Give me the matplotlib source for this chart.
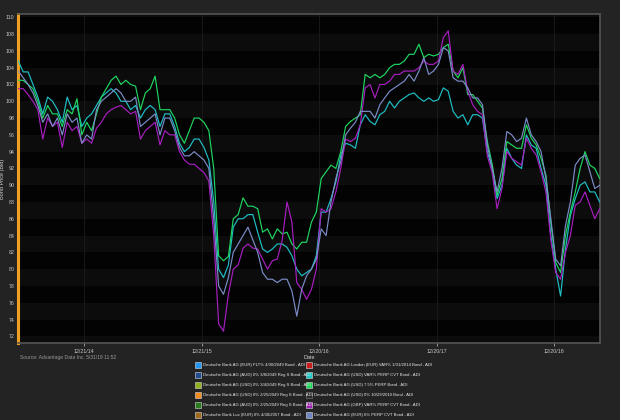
import matplotlib
matplotlib.use("Agg")
import matplotlib.pyplot as plt
from matplotlib.patches import Rectangle
import pandas as pd

plt.rcParams["font.family"] = ["Liberation Sans", "DejaVu Sans"]

dates = pd.date_range("2014-05-30", "2019-05-10", periods=120)

green_75_perp = [
    102.5, 102.5, 102, 101.5, 100, 98, 99.5, 98.5, 98.5, 97,
    99, 98.5, 100.3, 96, 97.5, 96.5, 98.5, 100.5, 101.5, 102.5,
    103, 102, 102.5, 102, 101.8, 99, 101, 101.5, 103, 99,
    99, 99, 98, 96, 95, 96.5, 98, 98, 97.5, 96.5,
    92, 81.6, 81, 81.5, 86, 86.5, 88.5, 87.5, 87.5, 87.2,
    84.4, 84.8, 83.6, 84.8, 84.2, 84.4, 83, 82.4, 83.2, 83.2,
    85.6, 86.8, 90.8, 91.6, 92.4, 92, 94, 97, 97.6, 98,
    98.4, 103.2, 102.8, 103.2, 102.8, 103.2, 104, 104.4, 104.4, 104.8,
    105.6, 105.6, 106.8, 105.2, 105.6, 105.4, 105.6, 106.4, 106.8, 103.6,
    102.8, 104, 100.8, 100.8, 100, 99.2, 95.2, 92.5, 88.8, 90.8,
    95.2, 94.8, 94.4, 94.4, 97.2, 95.6, 94.8, 93.2, 91.2, 85.6,
    80.8, 79.6, 84, 86.8, 89.2, 92, 94, 92.4, 92, 90.8,
]
cyan_usd_var_cvt = [
    104.8, 103.5, 103.5, 102, 100.5, 98.5, 100.5, 100, 99, 97.5,
    100.5, 99, 99.5, 97, 98, 98.5, 99.5, 100.5, 101, 101.5,
    101, 100, 100, 99, 99.5, 98, 99, 99.5, 99, 97,
    98.5, 98.5, 97, 95, 94, 94.5, 95.5, 95.5, 94.5, 93,
    88, 80, 79, 80.5, 85, 86, 86, 86.5, 86.5, 84.4,
    82.4, 82, 82.4, 83, 83, 82.6, 81.6, 80, 79.2, 79.6,
    80, 81.6, 86.8, 86.8, 88.4, 90.4, 93.6, 95, 94.8, 94.4,
    97.2, 98.4, 97.6, 97.2, 98.4, 98.8, 100, 99.2, 100, 100.4,
    100.8, 101, 100.4, 100, 100.4, 100, 100.2, 101.6, 101.2, 98.8,
    98, 98.4, 97.2, 98.4, 98.4, 98, 94, 92, 88.4, 90,
    94.4, 93.2, 92.4, 92, 96, 94.8, 94.4, 92, 90, 84,
    80, 76.8, 82.4, 86.4, 88.4, 90, 90.4, 89.2, 89.2, 88,
]
slate_eur_6_cvt = [
    103.6, 102.8, 102, 101, 99.5, 97.5, 98.5, 97, 98, 96,
    98.5, 97.5, 98, 95, 96, 95.5, 99, 100, 100.5, 101,
    101.5, 101, 100, 100, 100.5, 97, 97.5, 98, 98.5, 96,
    98, 98, 96.5, 94.5, 93.5, 93.5, 94, 93.5, 93, 92,
    86, 78, 77, 79, 82, 83, 84, 85, 83.5, 82,
    79.6, 78.8, 78.8, 78.4, 78.8, 78.8, 77.4, 74.4, 77.6, 79.2,
    80, 81.2, 84.8, 84, 88, 90.8, 92.8, 96, 96.8, 97.5,
    98.8, 98.8, 98.8, 98, 99.6, 100.4, 101.2, 101.6, 102, 102.4,
    103.2, 102.4, 103.6, 105.2, 103.2, 103.6, 104.4, 106.4, 106, 102.8,
    102.4, 102.4, 101.6, 100.4, 100.4, 99.6, 94.8, 92, 89.2, 92,
    96.4, 96, 95.2, 95.6, 98, 96, 95.2, 94, 90.8, 86,
    81.2, 80.4, 85.2, 88, 92.4, 93.2, 93.6, 91.6, 89.6, 90,
]
magenta_gbp_var_cvt = [
    101.5, 101.5, 100.8, 100, 99, 95.5, 98, 97, 97.5, 94.5,
    97.5, 96.5, 97, 95, 95.5, 95, 96.8, 97.5, 98.5, 99,
    99.3, 99.5, 99, 98.5, 98.8, 95.5, 96.5, 97, 97.5, 94.8,
    96.5, 96, 96, 94, 93, 92.5, 92.5, 92, 91.5, 90.5,
    84, 73.5, 72.6, 77, 80, 80.5, 82.5, 83, 82.5, 82.4,
    81.2, 80, 81, 81.2, 83.4, 88, 85.6, 78.4, 77.6, 76.4,
    77.6, 80, 87.2, 86.8, 87.2, 89.2, 92, 95.5, 95.2, 95.6,
    97.2, 101.6, 102, 100.4, 102, 102, 102.4, 103.2, 103.2, 103.6,
    103.6, 103.6, 104, 104.8, 104.4, 104.4, 104.8, 107.6, 108.4, 103.6,
    103.2, 104.4, 101.2, 99.6, 98.8, 98.4, 93.5, 91.5, 87.2, 89.6,
    94, 93.2, 92.8, 92.4, 95.6, 94.4, 93.6, 91.6, 89.2, 83.5,
    79.6, 78.8, 82, 84, 87.6, 88, 89.2, 87.6, 86, 87.2,
]

plotted = [
    ("Deutsche Bank AG (USD) VAR% PERP CVT Bond - ADI", cyan_usd_var_cvt, "#1FBFC6"),
    ("Deutsche Bank AG (USD) 7.5% PERP Bond - ADI", green_75_perp, "#1ED760"),
    ("Deutsche Bank AG (GBP) VAR% PERP CVT Bond - ADI", magenta_gbp_var_cvt, "#A81EC0"),
    ("Deutsche Bank AG (EUR) 6% PERP CVT Bond - ADI", slate_eur_6_cvt, "#7B8CC8"),
]

legend_labels = [
    "Deutsche Bank AG (EUR) FLT% 4/30/2049 Bond - ADI",
    "Deutsche Bank AG (AUD) 0% 3/8/2049 Reg S Bond - ADI",
    "Deutsche Bank AG (USD) 0% 3/4/2049 Reg S Bond - ADI",
    "Deutsche Bank AG (USD) 0% 2/25/2049 Reg S Bond - ADI",
    "Deutsche Bank AG (AUD) 0% 2/25/2049 Reg S Bond - ADI",
    "Deutsche Bank Lux (EUR) 0% 4/30/2057 Bond - ADI",
    "Deutsche Bank AG London (EUR) VAR% 1/31/2014 Bond - ADI",
    "Deutsche Bank AG (USD) VAR% PERP CVT Bond - ADI",
    "Deutsche Bank AG (USD) 7.5% PERP Bond - ADI",
    "Deutsche Bank AG (USD) 0% 10/29/2010 Bond - ADI",
    "Deutsche Bank AG (GBP) VAR% PERP CVT Bond - ADI",
    "Deutsche Bank AG (EUR) 6% PERP CVT Bond - ADI",
]
legend_colors = [
    "#2196F3", "#1F4E8F", "#8FAF1F", "#F08C1E", "#2A7A1E", "#A06A1E",
    "#C81E1E", "#1EC8C8", "#1ED75A", "#2A2A2A", "#A01EB4", "#6F86C0",
]

xtick_dates = ["2014-12-21", "2015-12-21", "2016-12-20", "2017-12-20", "2018-12-20"]
xtick_labels = ["12/21/14", "12/21/15", "12/20/16", "12/20/17", "12/20/18"]
yticks = list(range(72, 111, 2))

BG = "#232323"
fig = plt.figure(figsize=(6.2, 4.2), dpi=100, facecolor=BG)
ax = fig.add_axes([18 / 620, 1 - 343 / 420, 582 / 620, 329 / 420])
ax.set_facecolor("#030303")

ymin, ymax = 71.2, 110.4
for v in range(70, 112, 2):
    if v % 4 == 2:
        ax.axhspan(v, v + 2, color="#0c0c0c", zorder=0, lw=0)

for lab, vals, col in plotted:
    ax.plot(dates, vals, color=col, lw=0.85, zorder=3)

ax.set_ylim(ymin, ymax)
ax.set_xlim(pd.Timestamp("2014-05-29"), pd.Timestamp("2019-05-11"))
ax.set_yticks(yticks)
ax.set_yticklabels([str(t) for t in yticks])
ax.set_xticks([pd.Timestamp(d) for d in xtick_dates])
ax.set_xticklabels(xtick_labels)
ax.grid(axis="x", color="#1c1c1c", lw=0.6, zorder=1)
ax.tick_params(colors="#c8c8c8", labelsize=3.8, length=2, width=0.5, pad=2)
ax.tick_params(axis="y", length=0, pad=2.5)

for s in ["top", "right", "bottom"]:
    ax.spines[s].set_color("#555555")
    ax.spines[s].set_linewidth(1.2)
ax.spines["left"].set_color("#F0A020")
ax.spines["left"].set_linewidth(2.2)

ax.set_ylabel("Bond Price (Bid)", color="#d0d0d0", fontsize=4)
ax.yaxis.set_label_coords(-13 / 582, 0.5)
ax.set_xlabel("Date", color="#d0d0d0", fontsize=4, labelpad=1)

fig.text(20 / 620, 1 - 357 / 420, "Source: Advantage Data Inc. 5/31/19 11:52",
         color="#9a9a9a", fontsize=3.6, va="center", ha="left")

col_x = [198, 309]
row_y = [365, 375, 385, 395, 405, 415]
for k, (lab, col) in enumerate(zip(legend_labels, legend_colors)):
    c, r = divmod(k, 6)
    x0 = col_x[c]
    y0 = row_y[r]
    edge = "#888888" if col == "#2A2A2A" else "#dddddd"
    fig.patches.append(Rectangle(((x0 - 3) / 620, 1 - (y0 + 3) / 420), 6 / 620, 6 / 420,
                                 transform=fig.transFigure, facecolor=col,
                                 edgecolor=edge, lw=0.4))
    fig.text((x0 + 5) / 620, 1 - y0 / 420, lab, color="#e8e8e8", fontsize=3.1,
             va="center", ha="left")

fig.savefig("out.png", dpi=100, facecolor=BG)
